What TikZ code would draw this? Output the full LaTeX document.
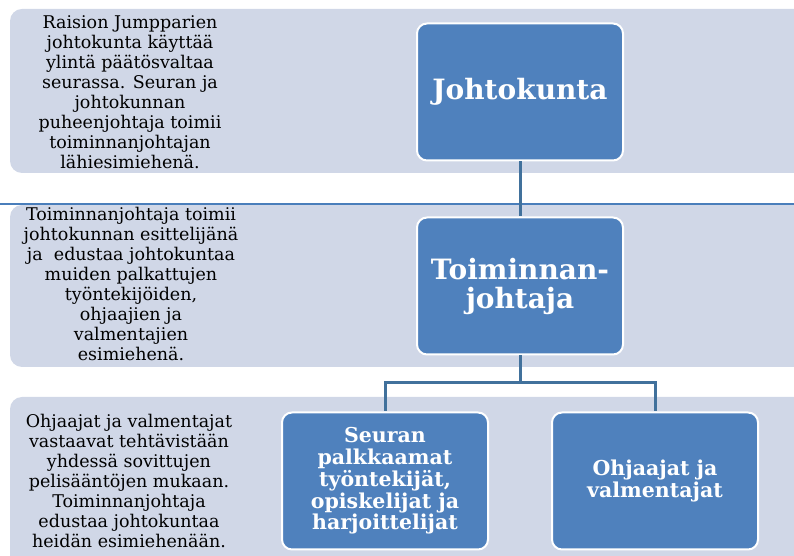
\documentclass[tikz,border=0pt]{standalone}
\usepackage{fontspec}
\setmainfont{DejaVu Serif}
\usepackage{tikz}
\usetikzlibrary{positioning}
\definecolor{BandGrey}{HTML}{D0D7E7}
\definecolor{BoxBlue}{HTML}{4F81BD}
\definecolor{LineBlue}{HTML}{41719C}
\definecolor{RuleBlue}{HTML}{4A7EBB}
\tikzset{
  % Band styles
  bandbox/.style={rounded corners=12pt, fill=BandGrey},
  bandtext/.style={font=\fontsize{17.5}{20}\selectfont, align=center, text=black},
  % Box styles
  orgbox/.style={rectangle, rounded corners=10pt, draw=white, line width=2pt, fill=BoxBlue, text=white, minimum width=206pt, minimum height=137pt, align=center, font=\bfseries\fontsize{20.5}{21.7}\selectfont},
  titlebox/.style={orgbox, font=\bfseries\fontsize{28}{29}\selectfont},
  % Line styles
  connector/.style={draw=LineBlue, line width=3pt},
  rule/.style={draw=RuleBlue, line width=1.8pt}
}

\begin{document}
\begin{tikzpicture}[x=1pt, y=1pt]
  \useasboundingbox (0,0) rectangle (794,556);
  \clip (0,0) rectangle (794,556);

  % Bands
  \path[bandbox] (10,547) rectangle (840,383);
  \path[bandbox] (10,351) rectangle (840,189);
  \path[bandbox] (10,159) rectangle (840,-40);

  % Separator
  \coordinate (ruleL) at (0,352);
  \coordinate (ruleR) at (794,352);
  \draw[rule] (ruleL) -- (ruleR);

  % Band texts
  \node[bandtext] (txt1) at (130,464) {Raision Jumpparien\\johtokunta käyttää\\ylintä päätösvaltaa\\seurassa. Seuran ja\\johtokunnan\\puheenjohtaja toimii\\toiminnanjohtajan\\lähiesimiehenä.};
  \node[bandtext] (txt2) at (131,272) {Toiminnanjohtaja toimii\\johtokunnan esittelijänä\\ja~ edustaa johtokuntaa\\muiden palkattujen\\työntekijöiden,\\ohjaajien ja\\valmentajien\\esimiehenä.};
  \node[bandtext] (txt3) at (129,75) {Ohjaajat ja valmentajat\\vastaavat tehtävistään\\yhdessä sovittujen\\pelisääntöjen mukaan.\\Toiminnanjohtaja\\edustaa johtokuntaa\\heidän esimiehenään.};

  % Boxes
  \node[titlebox] (board) at (520,464) {Johtokunta};
  \node[titlebox] (manager) at (520,270) {Toiminnan-\\johtaja};
  \node[orgbox] (staff) at (385,75) {Seuran\\palkkaamat\\työntekijät,\\opiskelijat ja\\harjoittelijat};
  \node[orgbox] (coaches) at (655,75) {Ohjaajat ja\\valmentajat};

  % Connectors
  \draw[connector] (board) -- (manager);
  \draw[connector] (manager) -- ++(0,-97) -| (staff);
  \draw[connector] (manager) -- ++(0,-97) -| (coaches);
\end{tikzpicture}
\end{document}
